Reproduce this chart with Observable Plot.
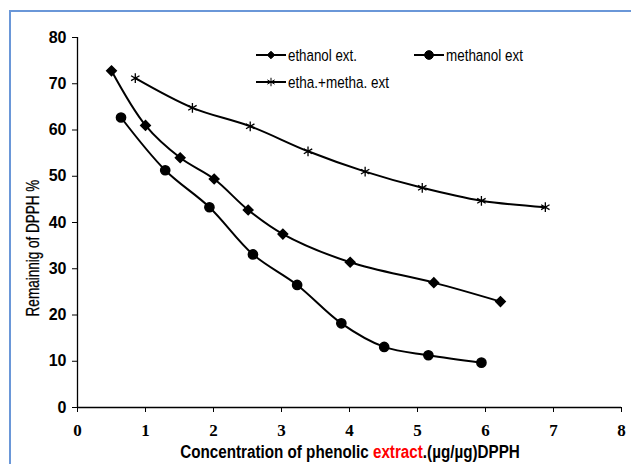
<!DOCTYPE html>
<html>
<head>
<meta charset="utf-8">
<script src="https://cdn.jsdelivr.net/npm/d3@7"></script>
<script src="https://cdn.jsdelivr.net/npm/@observablehq/plot@0.6"></script>
<style>
  html, body { margin: 0; padding: 0; background: #fff; }
  #wrap { position: relative; width: 631px; height: 464px; overflow: hidden; }
  #border { position: absolute; left: 9px; top: 10px; width: 640px; height: 470px;
            border-left: 2px solid #6a97d8; border-top: 2px solid #6a97d8; box-sizing: border-box; }
  #chart { position: absolute; left: 0; top: 0; }
  #chart svg text.xt { font: bold 17px 'Liberation Serif', serif !important; }
  #chart svg text.yt { font: bold 16px 'Liberation Sans', Arial, sans-serif !important; }
</style>
</head>
<body>
<div id="wrap"><div id="border"></div><div id="chart"></div></div>
<script>
// Series names
const seriesNames = ["ethanol ext.", "methanol ext", "etha.+metha. ext"];
// Ethanol extract
const ethX = [0.50, 1.00, 1.51, 2.01, 2.51, 3.02, 4.01, 5.24, 6.22];
const ethY = [72.8, 61.0, 54.0, 49.4, 42.7, 37.5, 31.4, 27.0, 22.9];
// Methanol extract
const metX = [0.64, 1.29, 1.94, 2.58, 3.23, 3.88, 4.51, 5.16, 5.94];
const metY = [62.7, 51.3, 43.3, 33.1, 26.5, 18.2, 13.1, 11.3, 9.7];
// Ethanol + methanol extract
const mixX = [0.85, 1.69, 2.54, 3.39, 4.23, 5.07, 5.94, 6.88];
const mixY = [71.2, 64.8, 60.8, 55.4, 51.0, 47.5, 44.7, 43.3];
// Tick labels
const xTicks = [0, 1, 2, 3, 4, 5, 6, 7, 8];
const yTicks = [0, 10, 20, 30, 40, 50, 60, 70, 80];
const xTitleParts = ["Concentration of phenolic ", "extract", ".(µg/µg)DPPH"];
const yTitle = "Remainnig of DPPH %";

const mk = (xs, ys, s) => xs.map((x, i) => ({x, y: ys[i], s}));
const eth = mk(ethX, ethY, seriesNames[0]);
const met = mk(metX, metY, seriesNames[1]);
const mix = mk(mixX, mixY, seriesNames[2]);

const serif = "'Liberation Serif', serif";
const sans = "'Liberation Sans', Arial, sans-serif";
const W = 631, H = 464;

const plot = Plot.plot({
  width: W, height: H,
  marginLeft: 77, marginRight: 10, marginTop: 37, marginBottom: 57,
  style: {fontFamily: sans, fontSize: "16px", fontWeight: "bold", color: "#000", background: "transparent"},
  x: {domain: [0, 8]},
  y: {domain: [0, 80]},
  marks: [
    Plot.axisX({ticks: xTicks, label: null, tickSize: 5, tickPadding: 11, tickFormat: d => String(d)}),
    Plot.axisY({ticks: yTicks, label: null, tickSize: 5, tickPadding: 6, tickFormat: d => String(d)}),
    Plot.ruleY([0], {stroke: "#000", strokeWidth: 1.3}),
    Plot.ruleX([0], {stroke: "#000", strokeWidth: 1.3}),
    Plot.line(eth, {x: "x", y: "y", curve: "catmull-rom", stroke: "#000", strokeWidth: 2}),
    Plot.line(met, {x: "x", y: "y", curve: "catmull-rom", stroke: "#000", strokeWidth: 2}),
    Plot.line(mix, {x: "x", y: "y", curve: "catmull-rom", stroke: "#000", strokeWidth: 2}),
    Plot.dot(eth, {x: "x", y: "y", symbol: "diamond2", r: 4.3, fill: "#000", stroke: "#000"}),
    Plot.dot(met, {x: "x", y: "y", symbol: "circle", r: 4.6, fill: "#000", stroke: "#000"}),
    Plot.dot(mix, {x: "x", y: "y", symbol: "asterisk", r: 4.6, fill: "none", stroke: "#000", strokeWidth: 1.3})
  ]
});
document.getElementById("chart").appendChild(plot);

const svg = d3.select(plot);

// Tick label styling: classify existing axis texts by their group
svg.selectAll("text").each(function() {
  const anchorG = this.closest("g[aria-label]");
  const lab = anchorG ? anchorG.getAttribute("aria-label") : "";
  const sel = d3.select(this);
  if (lab.startsWith("x-axis")) {
    sel.classed("xt", true).attr("font-size", 17).attr("font-family", serif).attr("font-weight", "bold");
    if (anchorG) { anchorG.setAttribute("font-size", 17); anchorG.setAttribute("font-family", serif); }
  } else if (lab.startsWith("y-axis")) {
    sel.classed("yt", true).attr("font-size", 16).attr("font-family", sans).attr("font-weight", "bold");
    if (anchorG) { anchorG.setAttribute("font-size", 16); anchorG.setAttribute("font-family", sans); }
  }
});

// Fit a text node horizontally (in its own frame) to a target width via scaleX
function fitText(text, target) {
  const w = text.node().getComputedTextLength();
  text.attr("transform", `scale(${target / w},1)`);
}

// X title
const xg = svg.append("g").attr("transform", "translate(350,458)");
const xt = xg.append("text").attr("text-anchor", "middle")
  .style("font-family", sans).style("font-weight", "bold").style("font-size", "19px").attr("fill", "#000");
xt.append("tspan").text(xTitleParts[0]);
xt.append("tspan").attr("fill", "#ff0000").text(xTitleParts[1]);
xt.append("tspan").text(xTitleParts[2]);
fitText(xt, 340);

// Y title
const yg = svg.append("g").attr("transform", "translate(39,248) rotate(-90)");
const yt = yg.append("text").attr("text-anchor", "middle")
  .style("font-family", sans).style("font-size", "18px").style("font-weight", "normal")
  .attr("stroke", "#000").attr("stroke-width", 0.25)
  .attr("fill", "#000").text(yTitle);
fitText(yt, 137);

// Legend
const legend = [
  {name: seriesNames[0], sym: d3.symbolDiamond2, size: 36, x: 256, y: 55, fill: "#000", len: 69},
  {name: seriesNames[1], sym: d3.symbolCircle, size: 60, x: 414, y: 55, fill: "#000", len: 77},
  {name: seriesNames[2], sym: d3.symbolAsterisk, size: 50, x: 256, y: 82, fill: "none", len: 101}
];
const lg = svg.append("g");
legend.forEach(d => {
  lg.append("line").attr("x1", d.x).attr("x2", d.x + 30).attr("y1", d.y).attr("y2", d.y)
    .attr("stroke", "#000").attr("stroke-width", 2);
  lg.append("path").attr("d", d3.symbol(d.sym, d.size)())
    .attr("transform", `translate(${d.x + 15},${d.y})`)
    .attr("fill", d.fill).attr("stroke", "#000").attr("stroke-width", 1);
  const g = lg.append("g").attr("transform", `translate(${d.x + 32},${d.y + 6})`);
  const t = g.append("text").attr("text-anchor", "start")
    .style("font-family", sans).style("font-size", "17px").style("font-weight", "normal")
    .attr("fill", "#000").text(d.name);
  fitText(t, d.len);
});
</script>
</body>
</html>
